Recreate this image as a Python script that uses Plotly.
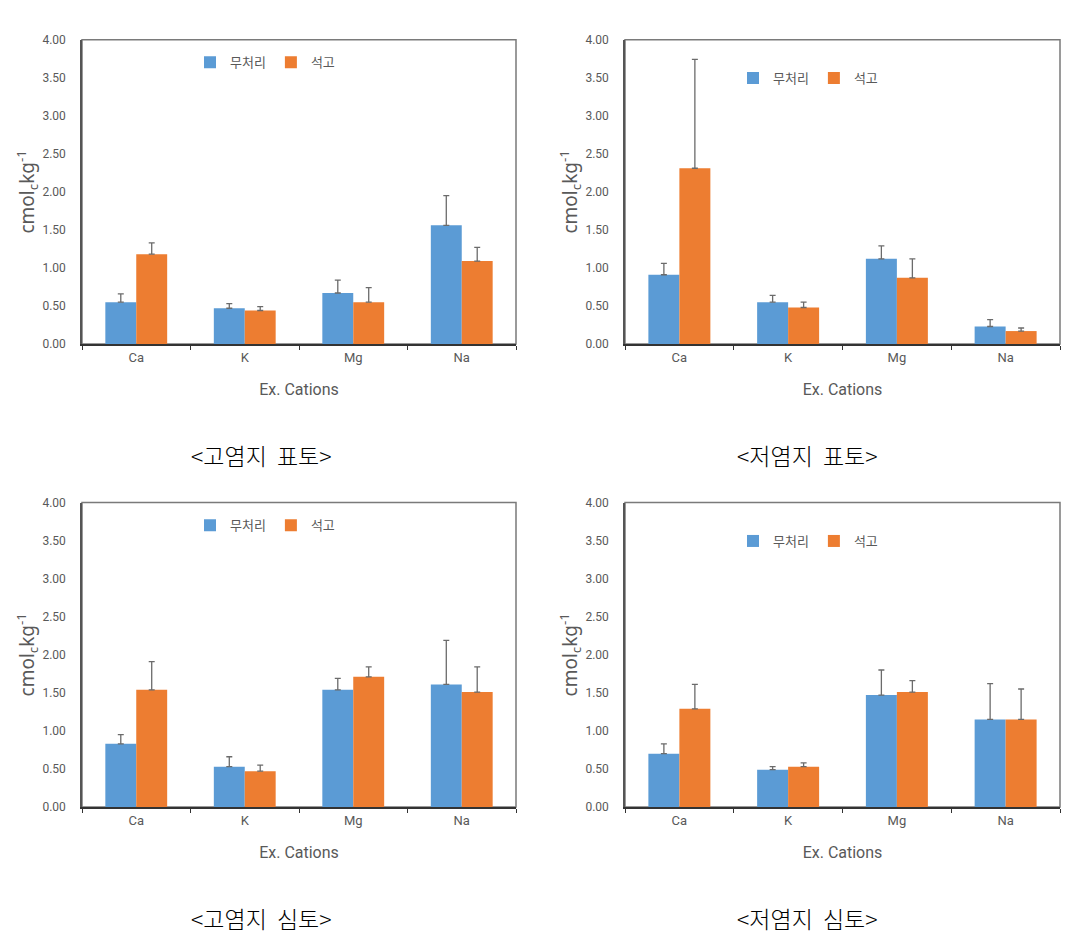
import plotly.graph_objects as go

# page body has an 8px margin; size the figure so the page fits the window exactly
PAGE_W, PAGE_H, BODY_MARGIN = 1081, 951, 8
W, H = PAGE_W - 2 * BODY_MARGIN, PAGE_H - 2 * BODY_MARGIN

categories = ["Ca", "K", "Mg", "Na"]
series_names = ["무처리", "석고"]
panel_titles = ["<고염지\u00a0\u00a0표토>", "<저염지\u00a0\u00a0표토>", "<고염지\u00a0\u00a0심토>", "<저염지\u00a0\u00a0심토>"]

hs_top_ctrl = [0.55, 0.47, 0.67, 1.56]
hs_top_ctrl_err = [0.66, 0.53, 0.84, 1.95]
hs_top_gyp = [1.18, 0.44, 0.55, 1.09]
hs_top_gyp_err = [1.33, 0.49, 0.74, 1.27]

ls_top_ctrl = [0.91, 0.55, 1.12, 0.23]
ls_top_ctrl_err = [1.06, 0.64, 1.29, 0.32]
ls_top_gyp = [2.31, 0.48, 0.87, 0.17]
ls_top_gyp_err = [3.74, 0.55, 1.12, 0.21]

hs_sub_ctrl = [0.83, 0.53, 1.54, 1.61]
hs_sub_ctrl_err = [0.95, 0.66, 1.69, 2.19]
hs_sub_gyp = [1.54, 0.47, 1.71, 1.51]
hs_sub_gyp_err = [1.91, 0.55, 1.84, 1.84]

ls_sub_ctrl = [0.70, 0.49, 1.47, 1.15]
ls_sub_ctrl_err = [0.83, 0.53, 1.80, 1.62]
ls_sub_gyp = [1.29, 0.53, 1.51, 1.15]
ls_sub_gyp_err = [1.61, 0.58, 1.66, 1.55]

panels = [
    (hs_top_ctrl, hs_top_ctrl_err, hs_top_gyp, hs_top_gyp_err),
    (ls_top_ctrl, ls_top_ctrl_err, ls_top_gyp, ls_top_gyp_err),
    (hs_sub_ctrl, hs_sub_ctrl_err, hs_sub_gyp, hs_sub_gyp_err),
    (ls_sub_ctrl, ls_sub_ctrl_err, ls_sub_gyp, ls_sub_gyp_err),
]

colors = ["#5B9BD5", "#ED7D31"]
err_color = "#6b6b6b"
txt_color = "#595959"
narrow = "Liberation Sans Narrow, Arial Narrow, Roboto, sans-serif"

# page-pixel geometry of the reference
boxes = [(82, 516, 33, 342), (625, 1060, 33, 342), (82, 516, 503, 812), (625, 1060, 503, 812)]
legend_pos = [(190, 56), (733, 72), (190, 526), (733, 542)]
caption_pos = [(261, 455), (807, 455), (261, 925), (807, 925)]

def px(x):
    return (x - BODY_MARGIN) / W

def py(y):
    return 1 - (y - BODY_MARGIN) / H

fig = go.Figure()
layout = dict(
    width=W, height=H, margin=dict(l=0, r=0, t=0, b=0),
    paper_bgcolor="white", plot_bgcolor="white",
    barmode="group", bargap=0.43, bargroupgap=0.0,
    annotations=[], shapes=[],
)

for i, (c, ce, g, ge) in enumerate(panels):
    k = "" if i == 0 else str(i + 1)
    xa, ya = "x" + k, "y" + k
    lg = "legend" + k
    for name, vals, tops, col in [(series_names[0], c, ce, colors[0]), (series_names[1], g, ge, colors[1])]:
        fig.add_trace(go.Bar(
            x=categories, y=vals, name=name, marker=dict(color=col, line=dict(width=0)),
            error_y=dict(type="data", symmetric=False,
                         array=[t - v for t, v in zip(tops, vals)],
                         arrayminus=[0] * len(vals),
                         color=err_color, thickness=1.3, width=3),
            xaxis=xa, yaxis=ya, legend=lg, showlegend=True,
        ))
    l, r, t, b = boxes[i]
    layout["xaxis" + k] = dict(
        domain=[px(l), px(r)], anchor=ya, type="category",
        showline=True, linecolor="#333333", linewidth=2,
        ticks="outside", tickson="boundaries", ticklen=4, tickcolor="#333333",
        tickfont=dict(family=narrow, size=13, color=txt_color),
        ticklabelstandoff=0,
        title=dict(text="Ex. Cations", font=dict(family=narrow, size=16, color=txt_color), standoff=20),
        showgrid=False, zeroline=False, fixedrange=True,
    )
    layout["yaxis" + k] = dict(
        domain=[py(b), py(t)], anchor=xa, range=[0, 4], dtick=0.5, tickformat=".2f",
        showline=True, linecolor="#555555", linewidth=1.5,
        ticks="", ticklabelstandoff=12,
        tickfont=dict(family=narrow, size=12, color=txt_color),
        title=dict(text="cmol<sub>c</sub>kg<sup>-1</sup>", font=dict(family="Noto Sans, sans-serif", size=19, color=txt_color), standoff=0),
        showgrid=False, zeroline=False, fixedrange=True,
    )
    lx, ly = legend_pos[i]
    layout[lg] = dict(
        x=px(lx), y=py(ly), xanchor="left", yanchor="middle", orientation="h",
        bgcolor="rgba(0,0,0,0)", font=dict(family="Noto Sans CJK KR, sans-serif", size=13, color=txt_color),
        itemwidth=30, tracegroupgap=0,
    )
    layout["shapes"].append(dict(
        type="rect", xref=xa + " domain", yref=ya + " domain", x0=0, x1=1, y0=0, y1=1,
        line=dict(color="#7a7a7a", width=1.5), fillcolor="rgba(0,0,0,0)", layer="below",
    ))
    cx, cy = caption_pos[i]
    layout["annotations"].append(dict(
        text=panel_titles[i], x=px(cx), y=py(cy), xref="paper", yref="paper",
        xanchor="center", yanchor="middle", showarrow=False,
        font=dict(family="Noto Sans CJK KR, sans-serif", size=23, color="black", weight=300),
    ))

fig.update_layout(**layout)
fig.write_html("out.html")
